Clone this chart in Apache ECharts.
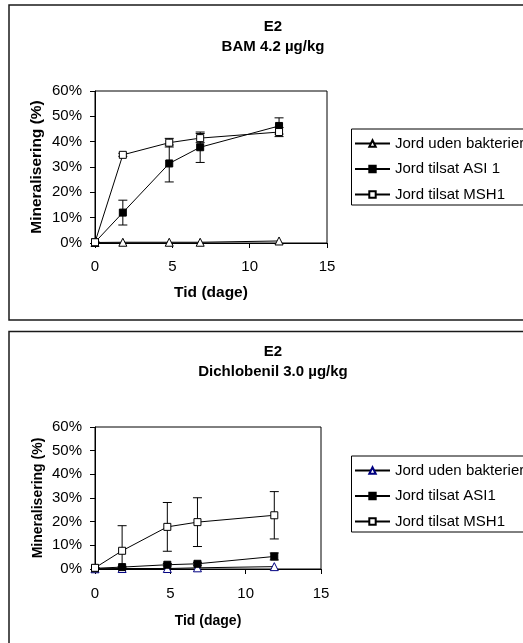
<!DOCTYPE html>
<html lang="da">
<head>
<meta charset="UTF-8">
<title>E2 mineralisering</title>
<script src="https://cdn.jsdelivr.net/npm/echarts@6/dist/echarts.min.js"></script>
<style>
  body { margin: 0; background: #fff; }
  #bamChart { width: 523px; height: 326px; }
  #dcbChart { width: 523px; height: 317px; }
</style>
</head>
<body>
<div id="bamChart"></div>
<div id="dcbChart"></div>
<script>
// Tid (dage) for the sampling points
const days = [0, 1.8, 4.8, 6.8, 11.9];
const xTicks = [0, 5, 10, 15];

// BAM 4.2 µg/kg (% mineralisering)
const bamUden = [0.2, 0.3, 0.3, 0.3, 0.8];
const bamAsi = [0.3, 12.0, 31.4, 37.8, 46.2];
const bamAsiErr = [0, 4.9, 7.3, 6.0, 3.2];
const bamMsh = [0.3, 34.8, 39.6, 41.4, 43.8];
const bamMshErr = [0, 0.6, 1.7, 1.8, 1.8];

// Dichlobenil 3.0 µg/kg (% mineralisering)
const dcbUden = [0.1, 0.2, 0.2, 0.5, 1.0];
const dcbAsi = [0.3, 0.8, 1.8, 2.2, 5.3];
const dcbAsiErr = [0, 0.3, 0.5, 0.6, 1.5];
const dcbMsh = [0.5, 7.7, 17.8, 19.8, 22.7];
const dcbMshErr = [0, 10.6, 10.3, 10.3, 10.0];

const FONT = 'Liberation Sans, Arial, sans-serif';

function pairs(values) {
  return days.map((d, i) => [d, values[i]]);
}

function errData(values, errs) {
  return days.map((d, i) => [d, values[i] - errs[i], values[i] + errs[i]]);
}

// vertical bar with caps, placed through the axes
function errorBarItem(params, api) {
  const x = api.value(0);
  const lo = api.coord([x, api.value(1)]);
  const hi = api.coord([x, api.value(2)]);
  const cap = 4.5;
  const style = { stroke: '#000', lineWidth: 1, fill: null };
  return {
    type: 'group',
    children: [
      { type: 'line', shape: { x1: lo[0], y1: lo[1], x2: hi[0], y2: hi[1] }, style: style },
      { type: 'line', shape: { x1: hi[0] - cap, y1: hi[1], x2: hi[0] + cap, y2: hi[1] }, style: style },
      { type: 'line', shape: { x1: lo[0] - cap, y1: lo[1], x2: lo[0] + cap, y2: lo[1] }, style: style }
    ]
  };
}

function buildOption(cfg) {
  return {
    animation: false,
    textStyle: { fontFamily: FONT },
    graphic: [{
      type: 'rect',
      shape: { x: 9, y: cfg.boxTop, width: 560, height: cfg.boxHeight },
      style: { fill: null, stroke: '#1a1a1a', lineWidth: 1.5 },
      z: -1
    }],
    title: {
      text: cfg.title,
      left: 273,
      top: cfg.titleTop,
      textAlign: 'center',
      padding: 0,
      textStyle: { fontFamily: FONT, fontSize: 15, fontWeight: 'bold', color: '#000', lineHeight: 20 }
    },
    legend: {
      orient: 'vertical',
      left: 351.5,
      top: cfg.legendTop,
      padding: [6, 20, 2, 2.5],
      itemGap: 8.5,
      itemWidth: 35,
      itemHeight: 8,
      borderColor: '#000',
      borderWidth: 1,
      textStyle: { fontFamily: FONT, fontSize: 15, color: '#000', lineHeight: 17 },
      data: cfg.names
    },
    grid: {
      left: 95, top: cfg.gridTop, width: cfg.gridWidth, height: cfg.gridHeight,
      show: true, borderColor: '#000', borderWidth: 1, containLabel: false
    },
    xAxis: {
      type: 'value', min: 0, max: 15, interval: 5,
      name: 'Tid (dage)', nameLocation: 'middle', nameGap: cfg.xNameGap,
      nameTextStyle: { fontFamily: FONT, fontSize: cfg.axisNameSize, fontWeight: 'bold', color: '#000' },
      axisLine: { lineStyle: { color: '#000', width: 1 } },
      axisTick: { length: 5, lineStyle: { color: '#000' } },
      axisLabel: {
        margin: cfg.xLabelMargin, fontSize: 15, color: '#000', fontFamily: FONT,
        customValues: xTicks
      },
      splitLine: { show: false }
    },
    yAxis: {
      type: 'value', min: 0, max: 60, interval: 10,
      name: 'Mineralisering (%)', nameLocation: 'middle', nameGap: cfg.yNameGap,
      nameTextStyle: { fontFamily: FONT, fontSize: cfg.axisNameSize, fontWeight: 'bold', color: '#000' },
      axisLine: { show: true, lineStyle: { color: '#000', width: 1 } },
      axisTick: { show: true, length: 5, lineStyle: { color: '#000' } },
      axisLabel: { margin: 13, fontSize: 15, color: '#000', fontFamily: FONT, formatter: '{value}%' },
      splitLine: { show: false }
    },
    series: [
      {
        type: 'custom', renderItem: errorBarItem, clip: true, z: 1,
        encode: { x: 0, y: [1, 2] }, data: errData(cfg.asi, cfg.asiErr), silent: true
      },
      {
        type: 'custom', renderItem: errorBarItem, clip: true, z: 1,
        encode: { x: 0, y: [1, 2] }, data: errData(cfg.msh, cfg.mshErr), silent: true
      },
      {
        name: cfg.names[0], type: 'line', data: pairs(cfg.uden), z: 3,
        symbol: 'triangle', symbolSize: 8, showAllSymbol: true,
        lineStyle: { color: '#000', width: 1 },
        itemStyle: { color: '#fff', borderColor: cfg.udenColor, borderWidth: 1 }
      },
      {
        name: cfg.names[1], type: 'line', data: pairs(cfg.asi), z: 3,
        symbol: 'rect', symbolSize: 7,
        lineStyle: { color: '#000', width: 1 },
        itemStyle: { color: '#000', borderColor: '#000', borderWidth: 1 }
      },
      {
        name: cfg.names[2], type: 'line', data: pairs(cfg.msh), z: 3,
        symbol: 'rect', symbolSize: 7,
        lineStyle: { color: '#000', width: 1 },
        itemStyle: { color: '#fff', borderColor: '#000', borderWidth: 1 }
      }
    ]
  };
}

const bamChart = echarts.init(document.getElementById('bamChart'));
bamChart.setOption(buildOption({
  title: 'E2\nBAM 4.2 µg/kg',
  titleTop: 17,
  boxTop: 5, boxHeight: 315,
  legendTop: 129,
  gridTop: 91, gridWidth: 232, gridHeight: 152,
  xNameGap: 42, xLabelMargin: 16, yNameGap: 50, axisNameSize: 15.5,
  names: ['Jord uden bakterier', 'Jord tilsat ASI 1', 'Jord tilsat MSH1'],
  udenColor: '#000',
  uden: bamUden, asi: bamAsi, asiErr: bamAsiErr, msh: bamMsh, mshErr: bamMshErr
}));

const dcbChart = echarts.init(document.getElementById('dcbChart'));
dcbChart.setOption(buildOption({
  title: 'E2\nDichlobenil 3.0 µg/kg',
  titleTop: 16,
  boxTop: 5.5, boxHeight: 400,
  legendTop: 130,
  gridTop: 101, gridWidth: 226, gridHeight: 142,
  xNameGap: 45, xLabelMargin: 17, yNameGap: 50, axisNameSize: 14,
  names: ['Jord uden bakterier', 'Jord tilsat ASI1', 'Jord tilsat MSH1'],
  udenColor: '#000080',
  uden: dcbUden, asi: dcbAsi, asiErr: dcbAsiErr, msh: dcbMsh, mshErr: dcbMshErr
}));
</script>
</body>
</html>
